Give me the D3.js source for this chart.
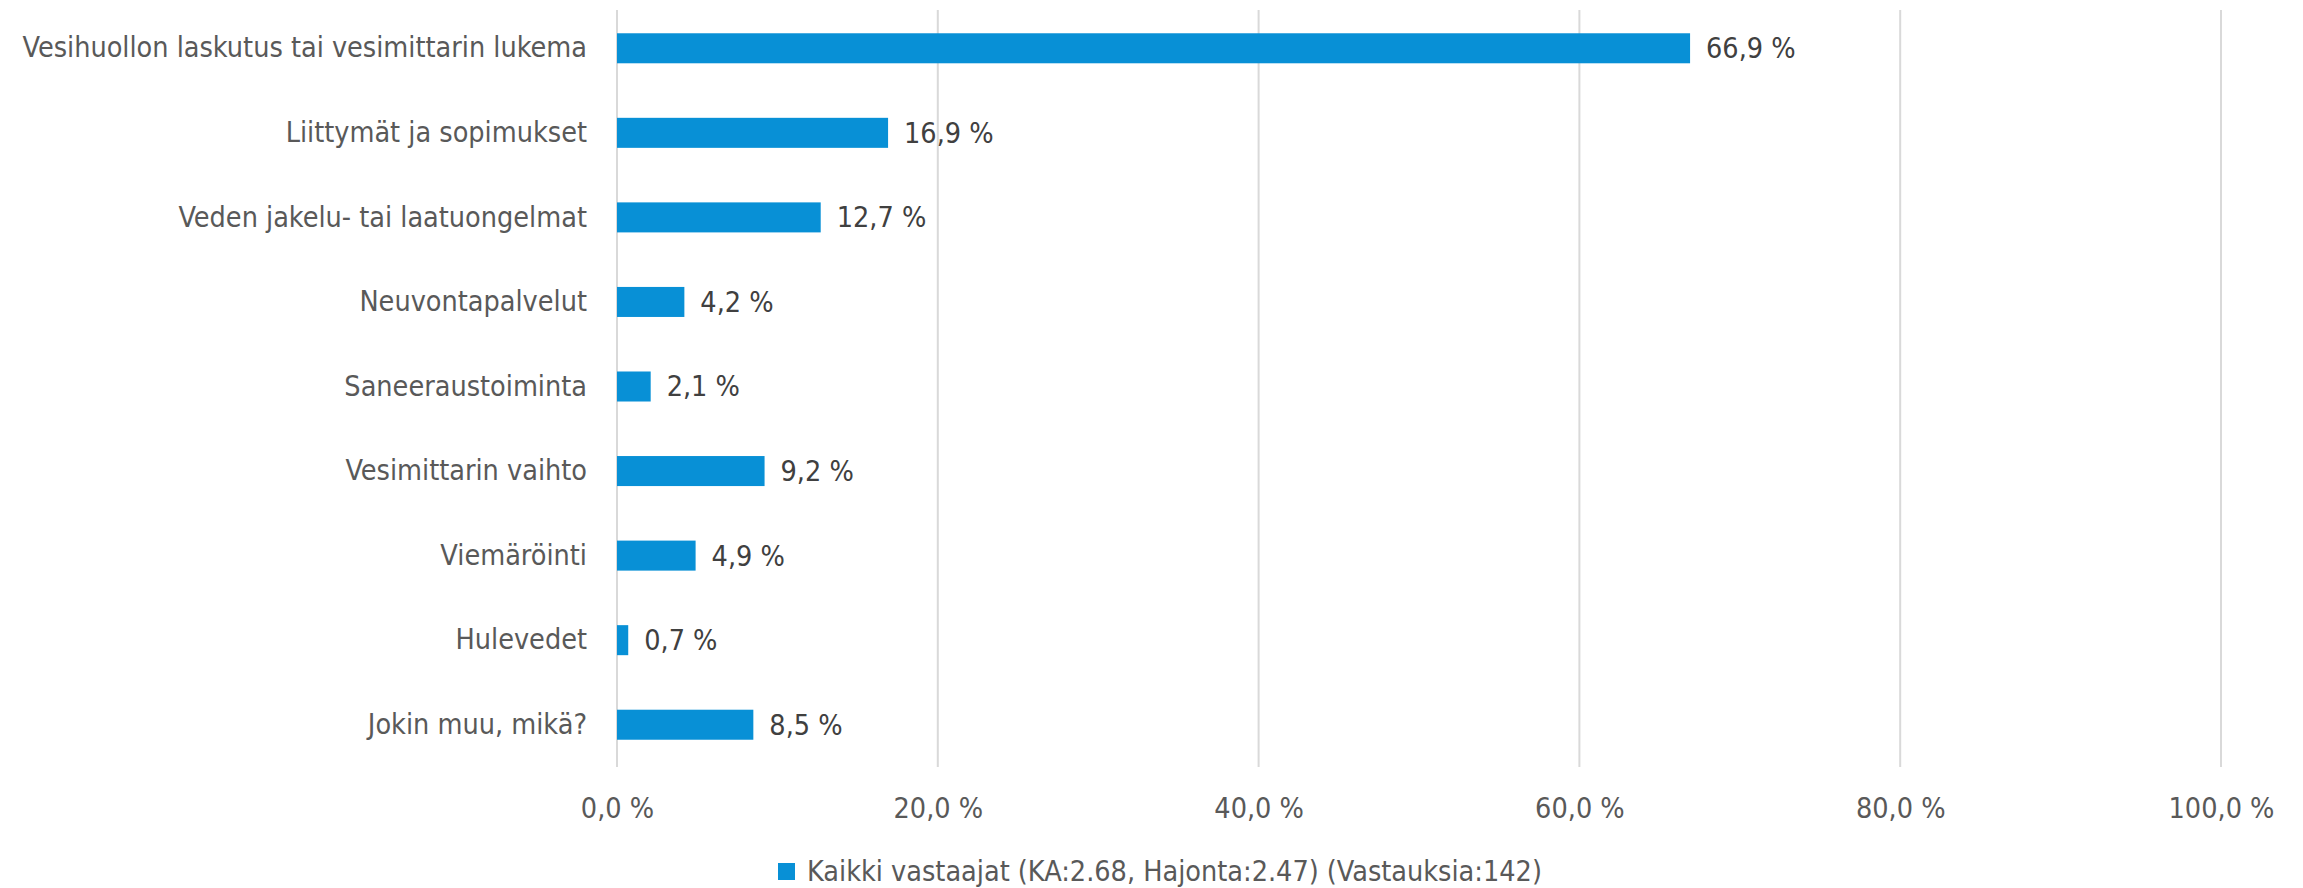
<!DOCTYPE html>
<html>
<head>
<meta charset="utf-8">
<script src="https://cdn.jsdelivr.net/npm/d3@7"></script>
<style>
  html, body { margin: 0; padding: 0; background: #fff; }
  svg text { font-family: "Liberation Sans Narrow", "DejaVu Sans Condensed", "Liberation Sans", sans-serif; }
</style>
</head>
<body>
<svg id="chart" width="2303" height="888"></svg>
<script>
const categories = [
  "Vesihuollon laskutus tai vesimittarin lukema",
  "Liittymät ja sopimukset",
  "Veden jakelu- tai laatuongelmat",
  "Neuvontapalvelut",
  "Saneeraustoiminta",
  "Vesimittarin vaihto",
  "Viemäröinti",
  "Hulevedet",
  "Jokin muu, mikä?"
];
const values = [66.9, 16.9, 12.7, 4.2, 2.1, 9.2, 4.9, 0.7, 8.5];
const tickValues = [0, 20, 40, 60, 80, 100];
const seriesName = "Kaikki vastaajat (KA:2.68, Hajonta:2.47) (Vastauksia:142)";

const fmt = v => v.toFixed(1).replace(".", ",") + " %";

const svg = d3.select("#chart");
const x = d3.scaleLinear().domain([0, 100]).range([617, 2221]);
const y = d3.scaleBand().domain(categories).range([6, 767])
  .paddingInner(0.645).paddingOuter(0.3225);

const barColor = "#0890d6";
const gridTop = 10, gridBottom = 767;
const fs = 28.5;

// gridlines
svg.append("g").selectAll("line").data(tickValues).join("line")
  .attr("x1", d => x(d)).attr("x2", d => x(d))
  .attr("y1", gridTop).attr("y2", gridBottom)
  .attr("stroke", "#d9d9d9").attr("stroke-width", 2);

// x axis tick labels
const xAxis = d3.axisBottom(x).tickValues(tickValues).tickFormat(fmt).tickSize(0).tickPadding(0);
const gx = svg.append("g").attr("transform", "translate(0,808)").call(xAxis);
gx.select(".domain").remove();
gx.selectAll("text").attr("dy", "0.35em").attr("y", 0)
  .attr("font-size", fs).attr("fill", "#595959")
  .style("font-family", "'Liberation Sans Narrow', 'DejaVu Sans Condensed', sans-serif");

// y axis labels
const yAxis = d3.axisLeft(y).tickSize(0).tickPadding(0);
const gy = svg.append("g").attr("transform", "translate(587,0)").call(yAxis);
gy.select(".domain").remove();
gy.selectAll("text").attr("font-size", fs).attr("fill", "#595959")
  .style("font-family", "'Liberation Sans Narrow', 'DejaVu Sans Condensed', sans-serif");

// bars
svg.append("g").selectAll("rect").data(categories).join("rect")
  .attr("x", x(0))
  .attr("y", d => y(d))
  .attr("width", (d, i) => x(values[i]) - x(0))
  .attr("height", y.bandwidth())
  .attr("fill", barColor);

// value labels
svg.append("g").selectAll("text").data(categories).join("text")
  .attr("x", (d, i) => x(values[i]) + 16)
  .attr("y", d => y(d) + y.bandwidth() / 2)
  .attr("dy", "0.35em")
  .attr("font-size", fs)
  .attr("fill", "#404040")
  .text((d, i) => fmt(values[i]));

// legend
const lg = svg.append("g");
lg.append("rect").attr("x", 778).attr("y", 863).attr("width", 17).attr("height", 17).attr("fill", barColor);
lg.append("text").attr("x", 807).attr("y", 871).attr("dy", "0.35em")
  .attr("font-size", fs).attr("fill", "#595959").text(seriesName);
</script>
</body>
</html>
